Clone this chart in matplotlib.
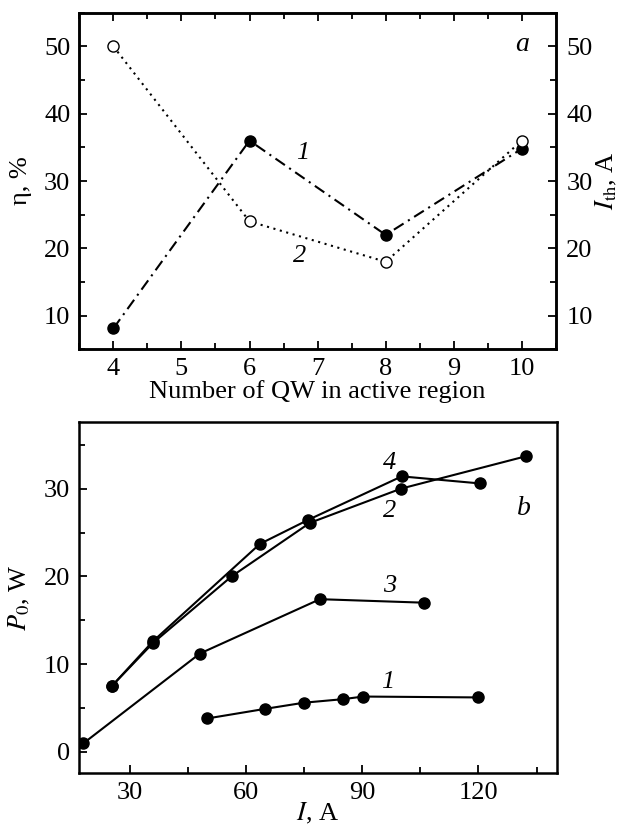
import matplotlib
matplotlib.use("Agg")
import matplotlib.pyplot as plt
from matplotlib.ticker import MultipleLocator

plt.rcParams['font.family'] = ['Liberation Serif', 'DejaVu Serif']
plt.rcParams['mathtext.fontset'] = 'stix'

# ---- panel a data ----
qw_number = [4, 6, 8, 10]
curve_a1 = [8.1, 36.0, 22.0, 34.8]   # filled circles, dash-dot
curve_a2 = [50.0, 24.0, 18.0, 36.0]  # open circles, dotted

# ---- panel b data ----
b1_I = [50, 65, 75, 85, 90.3, 120]
b1_P = [3.8, 4.9, 5.6, 6.0, 6.3, 6.2]
b2_I = [25.4, 36, 56.3, 76.5, 100, 132.3]
b2_P = [7.5, 12.4, 20.0, 26.1, 30.0, 33.7]
b3_I = [18, 48.1, 79.1, 106]
b3_P = [0.95, 11.2, 17.4, 17.0]
b4_I = [25.4, 36, 63.6, 76.1, 100.2, 120.3]
b4_P = [7.5, 12.6, 23.7, 26.45, 31.4, 30.6]

FS = 19
LW = 1.5

fig = plt.figure(figsize=(6.26, 8.26), dpi=100)
ax1 = fig.add_axes([0.1267, 0.5771, 0.7613, 0.4075])
ax2 = fig.add_axes([0.1267, 0.0638, 0.7626, 0.4253])

for sp in list(ax1.spines.values()) + list(ax2.spines.values()):
    sp.set_linewidth(1.8)

# ---------- panel a ----------
ax1.plot(qw_number, curve_a1, color='black', lw=LW, linestyle=(0, (5.5, 2.5, 1, 2.5)),
         marker='o', markersize=8, markerfacecolor='black', markeredgecolor='black')
ax1r = ax1.twinx()
for sp in ax1r.spines.values():
    sp.set_linewidth(1.8)
ax1r.plot(qw_number, curve_a2, color='black', lw=LW, linestyle=(0, (1, 2.2)),
          marker='o', markersize=8, markerfacecolor='white', markeredgecolor='black',
          markeredgewidth=1.0)
ax1.set_xlim(3.5, 10.5)
ax1.set_ylim(5, 55)
ax1r.set_ylim(5, 55)
ax1.xaxis.set_major_locator(MultipleLocator(1))
ax1.xaxis.set_minor_locator(MultipleLocator(0.5))
ax1.yaxis.set_major_locator(MultipleLocator(10))
ax1.yaxis.set_minor_locator(MultipleLocator(5))
ax1r.yaxis.set_major_locator(MultipleLocator(10))
ax1r.yaxis.set_minor_locator(MultipleLocator(5))
ax1.tick_params(which='both', direction='in', top=True, labelsize=FS, width=1.3, pad=6.5)
ax1.tick_params(which='major', length=6)
ax1.tick_params(which='minor', length=4)
ax1r.tick_params(which='both', direction='in', labelsize=FS, width=1.3, pad=7.5)
ax1r.tick_params(which='major', length=6)
ax1r.tick_params(which='minor', length=4)
ax1.set_xlabel('Number of QW in active region', fontsize=FS, va='center')
ax1.xaxis.set_label_coords(0.5, -0.125)
ax1.set_ylabel('η, %', fontsize=FS, va='center')
ax1.yaxis.set_label_coords(-0.122, 0.5)
ax1r.set_ylabel(r'$I_{\mathrm{th}}$, A', fontsize=FS, va='center')
ax1r.yaxis.set_label_coords(1.107, 0.5)
ax1.text(6.78, 34.2, '1', fontsize=FS, style='italic', ha='center', va='center')
ax1.text(6.74, 18.8, '2', fontsize=FS, style='italic', ha='center', va='center')
ax1.text(10.0, 50.3, 'a', fontsize=FS + 1, style='italic', ha='center', va='center')

# ---------- panel b ----------
mk = dict(color='black', lw=LW, marker='o', markersize=8,
          markerfacecolor='black', markeredgecolor='black')
ax2.plot(b1_I, b1_P, **mk)
ax2.plot(b2_I, b2_P, **mk)
ax2.plot(b3_I, b3_P, **mk)
ax2.plot(b4_I, b4_P, **mk)
ax2.set_xlim(17, 140.2)
ax2.set_ylim(-2.45, 37.6)
ax2.xaxis.set_major_locator(MultipleLocator(30))
ax2.xaxis.set_minor_locator(MultipleLocator(15))
ax2.yaxis.set_major_locator(MultipleLocator(10))
ax2.yaxis.set_minor_locator(MultipleLocator(5))
ax2.tick_params(which='both', direction='in', labelsize=FS, width=1.3, pad=6.5)
ax2.tick_params(which='major', length=6)
ax2.tick_params(which='minor', length=4)
ax2.set_xlabel(r'$I$, A', fontsize=FS, va='center')
ax2.xaxis.set_label_coords(0.5, -0.113)
ax2.set_ylabel(r'$P_0$, W', fontsize=FS, va='center')
ax2.yaxis.set_label_coords(-0.125, 0.5)
ax2.text(97.0, 32.9, '4', fontsize=FS, style='italic', ha='center', va='center')
ax2.text(97.0, 27.4, '2', fontsize=FS, style='italic', ha='center', va='center')
ax2.text(97.0, 18.9, '3', fontsize=FS, style='italic', ha='center', va='center')
ax2.text(96.5, 8.0, '1', fontsize=FS, style='italic', ha='center', va='center')
ax2.text(131.8, 27.7, 'b', fontsize=FS + 1, style='italic', ha='center', va='center')

fig.savefig('out.png', dpi=100)
